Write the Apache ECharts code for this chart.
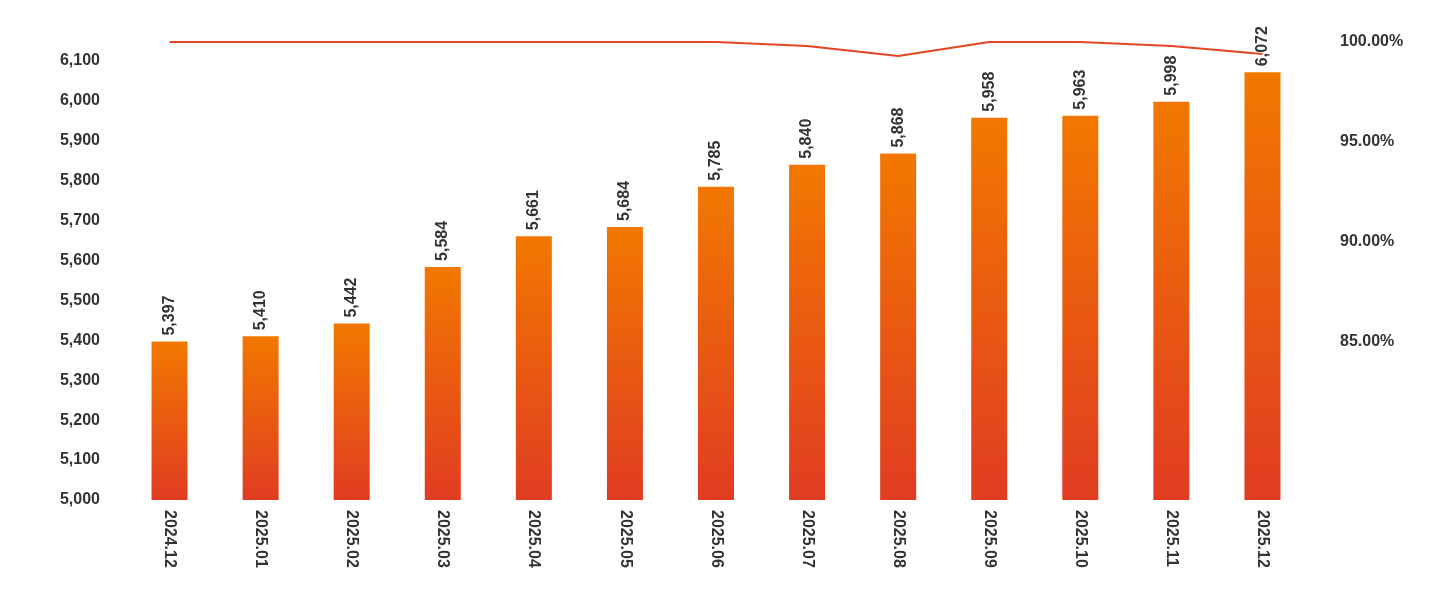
<!DOCTYPE html>
<html>
<head>
<meta charset="utf-8">
<script src="https://cdn.jsdelivr.net/npm/echarts@6/dist/echarts.min.js"></script>
<style>html,body{margin:0;padding:0;background:#fff}#main{width:1440px;height:600px}</style>
</head>
<body>
<div id="main"></div>
<script>
// 月份
var categories = ['2024.12','2025.01','2025.02','2025.03','2025.04','2025.05','2025.06','2025.07','2025.08','2025.09','2025.10','2025.11','2025.12'];
// 柱状数值
var barValues = [5397, 5410, 5442, 5584, 5661, 5684, 5785, 5840, 5868, 5958, 5963, 5998, 6072];
// 折线百分比
var lineValues = [100, 100, 100, 100, 100, 100, 100, 99.8, 99.3, 100, 100, 99.8, 99.4];
// 右轴刻度
var rightTicks = [85, 90, 95, 100];

var chart = echarts.init(document.getElementById('main'));
var txt = {color: '#333', fontSize: 16, fontWeight: 'bold', fontFamily: 'Liberation Sans, Arial, sans-serif'};
chart.setOption({
    animation: false,
    grid: {left: 124, right: 132, top: 42, bottom: 100},
    xAxis: {
        type: 'category', data: categories,
        axisLine: {show: false}, axisTick: {show: false},
        axisLabel: Object.assign({rotate: -90, margin: 10}, txt)
    },
    yAxis: [{
        type: 'value', min: 5000, max: 6147.5, interval: 100,
        splitLine: {show: false}, axisLine: {show: false}, axisTick: {show: false},
        axisLabel: Object.assign({margin: 24, showMaxLabel: false, formatter: function (v) { return v.toLocaleString('en-US'); }}, txt)
    }, {
        type: 'value', min: 77.1, max: 100,
        splitLine: {show: false}, axisLine: {show: false}, axisTick: {show: false},
        axisLabel: Object.assign({margin: 32, customValues: rightTicks, formatter: function (v) { return v.toFixed(2) + '%'; }}, txt)
    }],
    series: [{
        type: 'bar', data: barValues, barWidth: 36,
        itemStyle: {color: new echarts.graphic.LinearGradient(0, 0, 0, 1, [
            {offset: 0, color: '#f27800'}, {offset: 1, color: '#e03c22'}])},
        label: Object.assign({show: true, position: 'top', rotate: 90, align: 'left', verticalAlign: 'middle', distance: 6,
            formatter: function (p) { return p.value.toLocaleString('en-US'); }}, txt)
    }, {
        type: 'line', yAxisIndex: 1, data: lineValues, symbol: 'none',
        lineStyle: {color: '#e2471f', width: 2}
    }]
});
</script>
</body>
</html>
